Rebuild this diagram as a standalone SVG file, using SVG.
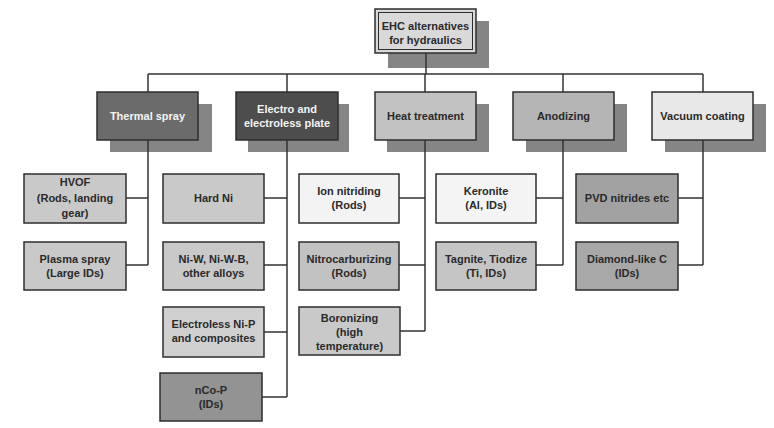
<svg xmlns="http://www.w3.org/2000/svg" width="774" height="428" viewBox="0 0 774 428">
<style>
.b{stroke:#2e2e2e;stroke-width:1.5}
.sh{fill:#858585}
.t{font-family:"Liberation Sans",Arial,sans-serif;font-size:11px;font-weight:bold;fill:#2a2a2a;text-anchor:middle}
.w{fill:#f4f4f4}
.c{fill:none;stroke:#333;stroke-width:1.5}
</style>
<rect width="774" height="428" fill="#ffffff"/>
<g id="root">
<rect class="sh" x="388" y="21" width="101" height="47"/>
<rect x="375" y="9" width="101" height="44" fill="#d9d9d9" class="b"/>
<rect x="378.5" y="12.5" width="94" height="37" fill="none" stroke="#2e2e2e" stroke-width="1"/>
<text class="t" x="425.5" y="30">EHC alternatives</text>
<text class="t" x="425.5" y="44">for hydraulics</text>
</g>
<g id="thermal">
<rect class="sh" x="110" y="104" width="102" height="48"/>
<rect x="97" y="92" width="101" height="48" fill="#6b6b6b" class="b"/>
<text class="t w" x="147.5" y="120">Thermal spray</text>
</g>
<g id="electro">
<rect class="sh" x="248" y="104" width="101" height="48"/>
<rect x="236" y="92" width="102" height="48" fill="#4d4d4d" class="b"/>
<text class="t w" x="287" y="113">Electro and</text>
<text class="t w" x="287" y="127">electroless plate</text>
</g>
<g id="heat">
<rect class="sh" x="387" y="104" width="102" height="48"/>
<rect x="375" y="92" width="101" height="48" fill="#c2c2c2" class="b"/>
<text class="t" x="425.5" y="120">Heat treatment</text>
</g>
<g id="anodizing">
<rect class="sh" x="526" y="104" width="101" height="48"/>
<rect x="513" y="92" width="101" height="48" fill="#b5b5b5" class="b"/>
<text class="t" x="563.5" y="120">Anodizing</text>
</g>
<g id="vacuum">
<rect class="sh" x="665" y="104" width="101" height="48"/>
<rect x="652" y="92" width="101" height="48" fill="#e8e8e8" class="b"/>
<text class="t" x="702.5" y="120">Vacuum coating</text>
</g>
<g id="hvof">
<rect x="24" y="174" width="102" height="49" fill="#c9c9c9" class="b"/>
<text class="t" x="75" y="186">HVOF</text>
<text class="t" x="75" y="202">(Rods, landing</text>
<text class="t" x="75" y="217">gear)</text>
</g>
<g id="plasma">
<rect x="24" y="242" width="102" height="48" fill="#c9c9c9" class="b"/>
<text class="t" x="75" y="263">Plasma spray</text>
<text class="t" x="75" y="277">(Large IDs)</text>
</g>
<g id="hardni">
<rect x="163" y="174" width="101" height="49" fill="#c9c9c9" class="b"/>
<text class="t" x="213.5" y="202">Hard Ni</text>
</g>
<g id="niw">
<rect x="163" y="242" width="101" height="48" fill="#c9c9c9" class="b"/>
<text class="t" x="213.5" y="263">Ni-W, Ni-W-B,</text>
<text class="t" x="213.5" y="277">other alloys</text>
</g>
<g id="electroless">
<rect x="163" y="307" width="101" height="50" fill="#d0d0d0" class="b"/>
<text class="t" x="213.5" y="328">Electroless Ni-P</text>
<text class="t" x="213.5" y="342">and composites</text>
</g>
<g id="ncop">
<rect x="160" y="373" width="102" height="48" fill="#939393" class="b"/>
<text class="t" x="211" y="394">nCo-P</text>
<text class="t" x="211" y="408">(IDs)</text>
</g>
<g id="ion">
<rect x="299" y="174" width="100" height="49" fill="#f3f3f3" class="b"/>
<text class="t" x="349" y="195">Ion nitriding</text>
<text class="t" x="349" y="209">(Rods)</text>
</g>
<g id="nitrocarb">
<rect x="299" y="242" width="100" height="48" fill="#c2c2c2" class="b"/>
<text class="t" x="349" y="263">Nitrocarburizing</text>
<text class="t" x="349" y="277">(Rods)</text>
</g>
<g id="boronizing">
<rect x="299" y="307" width="101" height="48" fill="#c9c9c9" class="b"/>
<text class="t" x="349.5" y="322">Boronizing</text>
<text class="t" x="349.5" y="336">(high</text>
<text class="t" x="349.5" y="350">temperature)</text>
</g>
<g id="keronite">
<rect x="436" y="174" width="100" height="49" fill="#f4f4f4" class="b"/>
<text class="t" x="486" y="195">Keronite</text>
<text class="t" x="486" y="209">(Al, IDs)</text>
</g>
<g id="tagnite">
<rect x="436" y="242" width="100" height="48" fill="#c5c5c5" class="b"/>
<text class="t" x="486" y="263">Tagnite, Tiodize</text>
<text class="t" x="486" y="277">(Ti, IDs)</text>
</g>
<g id="pvd">
<rect x="576" y="174" width="102" height="49" fill="#a2a2a2" class="b"/>
<text class="t" x="627" y="202">PVD nitrides etc</text>
</g>
<g id="dlc">
<rect x="576" y="242" width="102" height="48" fill="#a8a8a8" class="b"/>
<text class="t" x="627" y="263">Diamond-like C</text>
<text class="t" x="627" y="277">(IDs)</text>
</g>
<g id="connectors">
<path class="c" d="M426,53V74M148,74H703M148,74V92M287,74V92M425,74V92M563,74V92M703,74V92"/>
<path class="c" d="M148,140V265M126,198H148M126,265H148"/>
<path class="c" d="M287,140V397M264,198H287M264,265H287M264,332H287M262,397H287"/>
<path class="c" d="M425,140V331M399,198H425M399,265H425M400,331H425"/>
<path class="c" d="M563,140V265M536,198H563M536,265H563"/>
<path class="c" d="M703,140V265M678,198H703M678,265H703"/>
</g>
</svg>
